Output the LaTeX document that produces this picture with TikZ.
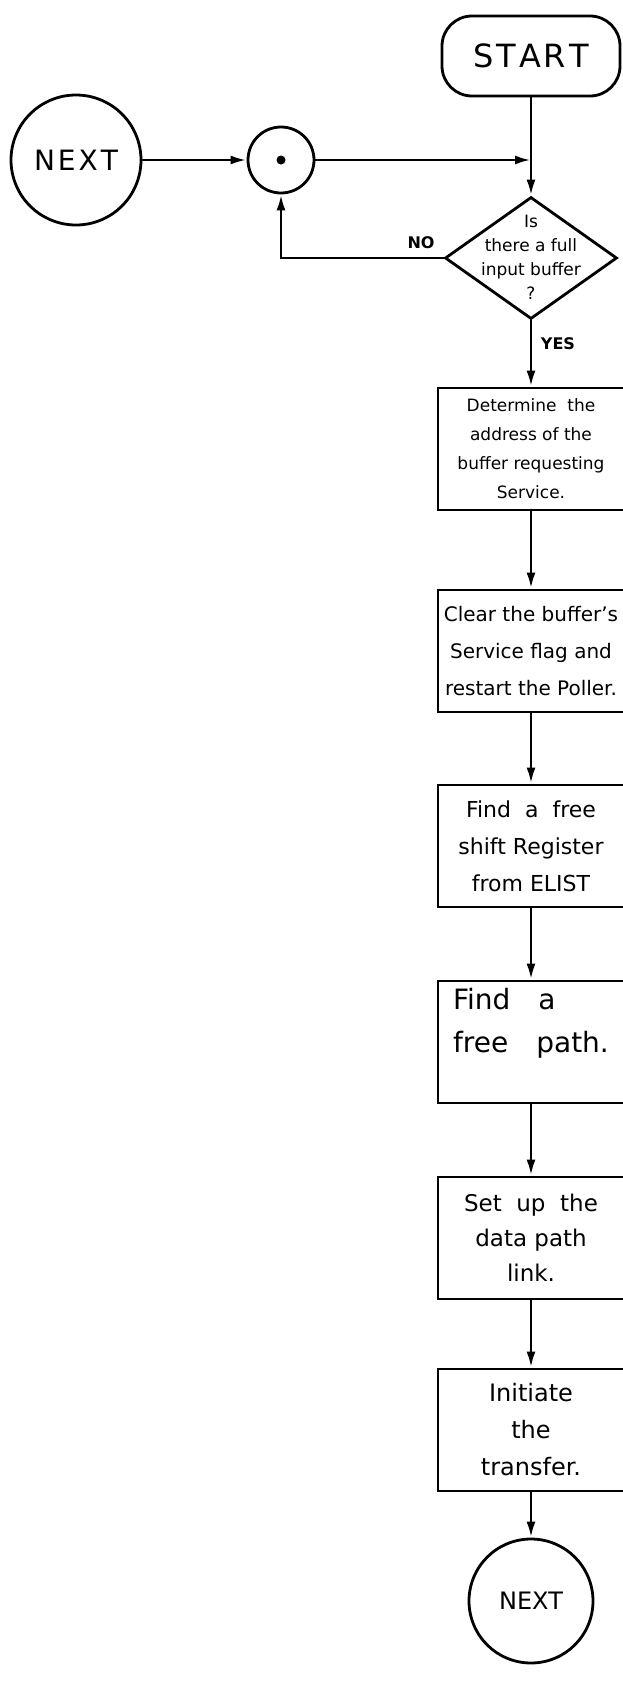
\documentclass[tikz,border=0pt]{standalone}
\usepackage{fontspec}
\setmainfont{DejaVu Sans}
\usetikzlibrary{arrows.meta,shapes.geometric,positioning}
\begin{document}
\begin{tikzpicture}[x=1pt,y=-1pt,line width=2.8pt,
  link/.style={-{Latex[length=16pt,width=9pt]}},
  stepbox/.style={draw,minimum width=186pt,minimum height=122pt,
    align=center,font=\fontsize{22}{37}\selectfont},
  termbox/.style={draw,rounded corners=30pt,minimum width=178pt,minimum height=80pt,
    font=\fontsize{32}{32}\selectfont},
  decision/.style={draw,diamond,minimum width=172pt,minimum height=122pt,inner sep=0pt},
  onpage/.style={draw,circle,minimum size=130pt,font=\fontsize{28}{28}\selectfont},
  tag/.style={font=\bfseries\fontsize{16}{16}\selectfont}]
\useasboundingbox (0,0) rectangle (623,1684);
% top of the chart
\node[termbox] (start) at (531,56) {S\kern3pt T\kern3pt A\kern3pt R\kern3pt T};
\node[onpage] (next) at (76,160) {N\kern3pt E\kern3pt X\kern3pt T};
\node[draw,circle,minimum size=66pt] (dot) at (281,160) {};
\fill (dot.center) circle[radius=4.5];
\node[decision] (ask) at (531,258) {};
\node[align=center,font=\fontsize{17}{24}\selectfont] (asktext) at (531,257)
  {Is\\there a full\\input buffer\\?};
\coordinate (join) at (start.south |- dot.east);
\node[tag] (no) at (421,243) {NO};
\node[tag] (yes) at (558,344) {YES};
% steps
\node[stepbox,font=\fontsize{17}{29}\selectfont] (addr) at (531,449)
  {Determine\ \ the\\address of the\\buffer requesting\\Service.};
\node[stepbox,font=\fontsize{20}{37}\selectfont] (clear) at (531,651)
  {Clear the buffer's\\Service flag and\\restart the Poller.};
\node[stepbox] (shift) at (531,846) {Find\ \ a\ \ free\\shift Register\\from ELIST};
\node[stepbox,align=left,font=\fontsize{28}{43}\selectfont] (path) at (531,1042)
  {Find\quad a\\free\quad path.\\\mbox{}};
\node[stepbox,font=\fontsize{23}{35}\selectfont] (link) at (531,1238)
  {Set\ \ up\ \ the\\data path\\link.};
\node[stepbox,font=\fontsize{24}{37}\selectfont] (init) at (531,1430)
  {Initiate\\the\\transfer.};
\node[onpage,minimum size=124pt,font=\fontsize{24}{24}\selectfont] (nextb) at (531,1601) {NEXT};
% connectors
\draw[link] (next) -- (dot);
\draw[link] (dot) -- (join);
\draw[link] (start) -- (ask);
\draw[link] (ask.west) -| (dot.south);
\draw[link] (ask) -- (addr);
\draw[link] (addr) -- (clear);
\draw[link] (clear) -- (shift);
\draw[link] (shift) -- (path);
\draw[link] (path) -- (link);
\draw[link] (link) -- (init);
\draw[link] (init) -- (nextb);
\end{tikzpicture}
\end{document}
